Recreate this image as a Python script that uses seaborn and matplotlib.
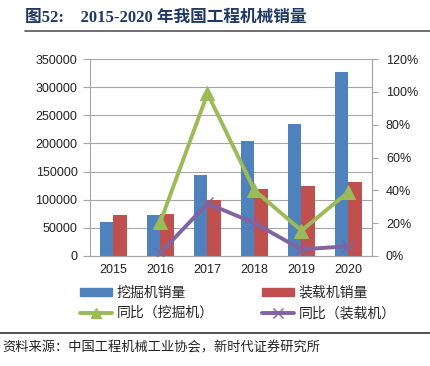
import matplotlib
matplotlib.use("Agg")
import matplotlib.pyplot as plt
import matplotlib.ticker as mticker
from matplotlib.lines import Line2D
from matplotlib.patches import Patch
import pandas as pd
import seaborn as sns

# data
years = ["2015", "2016", "2017", "2018", "2019", "2020"]
excavator = [60500, 72000, 144000, 203500, 235000, 326500]
loader = [73500, 75000, 99000, 118500, 123500, 131000]
yoy_years = ["2016", "2017", "2018", "2019", "2020"]
yoy_excavator = [0.21, 0.99, 0.40, 0.155, 0.39]
yoy_loader = [0.02, 0.32, 0.20, 0.04, 0.06]

sns.set_style("white")
plt.rcParams["font.family"] = ["Liberation Sans", "Noto Sans CJK SC"]

blue, red, green, purple = "#4F81BD", "#C0504D", "#9BBB59", "#8064A2"
grid_c = "#A6A6A6"

df = pd.DataFrame({
    "year": years * 2,
    "sales": excavator + loader,
    "type": ["挖掘机销量"] * len(years) + ["装载机销量"] * len(years),
})

fig = plt.figure(figsize=(4.31, 3.66), dpi=100)
ax = fig.add_axes([90 / 431, 1 - 256 / 366, 282 / 431, 197 / 366])

sns.barplot(data=df, x="year", y="sales", hue="type", order=years,
            palette=[blue, red], width=0.58, gap=0, saturation=1,
            linewidth=0, legend=False, ax=ax)
ax.set_xlabel("")
ax.set_ylabel("")
ax.set_ylim(0, 350000)
ax.set_yticks(range(0, 350001, 50000))
ax.set_xlim(-0.5, len(years) - 0.5)
ax.yaxis.grid(True, color=grid_c, linewidth=0.8)
ax.set_axisbelow(True)
ax.tick_params(axis="y", labelsize=9, colors=grid_c, labelcolor="#222222",
               length=5, width=0.8, left=True, pad=4)
ax.tick_params(axis="x", which="major", length=0, labelsize=9,
               labelcolor="#222222", pad=6)
ax.set_xticks([i + 0.5 for i in range(-1, len(years))], minor=True)
ax.tick_params(axis="x", which="minor", length=4, color=grid_c, width=0.8)
for side in ["left", "right", "bottom"]:
    ax.spines[side].set_color(grid_c)
    ax.spines[side].set_linewidth(0.8)
ax.spines["top"].set_visible(False)

ax2 = ax.twinx()
pos = [years.index(y) for y in yoy_years]
sns.lineplot(x=pos, y=yoy_excavator, ax=ax2, color=green, linewidth=2.8,
             marker="^", markersize=10, markeredgecolor=green)
sns.lineplot(x=pos, y=yoy_loader, ax=ax2, color=purple, linewidth=2.8,
             marker="x", markersize=9, markeredgewidth=1.0,
             markeredgecolor=purple)
ax2.set_ylim(0, 1.2)
ax2.set_yticks([0, 0.2, 0.4, 0.6, 0.8, 1.0, 1.2])
ax2.yaxis.set_major_formatter(mticker.FuncFormatter(lambda v, p: f"{v * 100:.0f}%"))
ax2.tick_params(axis="y", labelsize=9, colors=grid_c, labelcolor="#222222",
                length=4, width=0.8, right=True, pad=6)
ax2.set_xlim(-0.5, len(years) - 0.5)
for side in ["top", "left", "bottom"]:
    ax2.spines[side].set_visible(False)
ax2.spines["right"].set_color(grid_c)
ax2.spines["right"].set_linewidth(0.8)

cjk = ["Noto Sans CJK SC"]
handles = [
    Patch(color=blue, label="挖掘机销量"),
    Line2D([], [], color=green, lw=2.8, marker="^", markersize=7, label="同比（挖掘机）"),
    Patch(color=red, label="装载机销量"),
    Line2D([], [], color=purple, lw=2.8, marker="x", markersize=7, markeredgewidth=1.0, label="同比（装载机）"),
]
fig.legend(handles=handles, ncol=2, loc="center", bbox_to_anchor=(0.552, 1 - 303 / 366),
           frameon=False, prop={"family": cjk, "size": 10}, handlelength=2.3,
           handleheight=0.5, columnspacing=3.5, labelspacing=0.45, handletextpad=0.3)

# title and rules
fig.text(25 / 431, 1 - 18 / 366, "图52:    2015-2020 年我国工程机械销量",
         family=["Liberation Serif", "Noto Sans CJK SC"], weight="bold",
         fontsize=12, color="#1F3864", va="center", ha="left")
fig.add_artist(Line2D([25 / 431, 1], [1 - 31 / 366] * 2, color="#555555", lw=1.2))
fig.add_artist(Line2D([0, 1], [1 - 333 / 366] * 2, color="#333333", lw=1.2))
fig.text(2 / 431, 1 - 348 / 366, "资料来源：中国工程机械工业协会，新时代证券研究所",
         family=cjk, fontsize=9.5, color="#222222", va="center", ha="left")

fig.savefig("out.png", dpi=100)
